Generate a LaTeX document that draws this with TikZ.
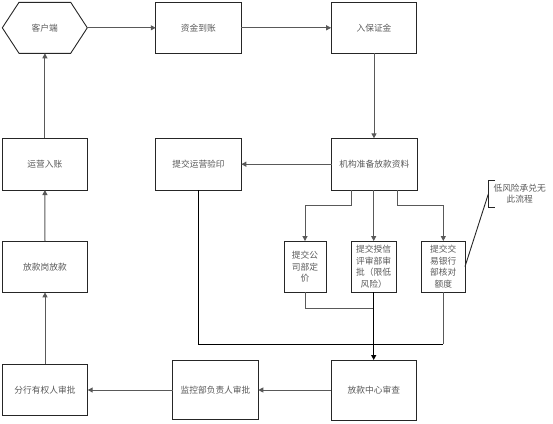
\documentclass[tikz,border=0pt]{standalone}
\usepackage{fontspec}
\newfontfamily\cjk{Noto Sans CJK SC}[Scale=0.97]
\usetikzlibrary{arrows.meta}
\tikzset{
  lbl/.style={font=\cjk\fontsize{9}{11.5}\selectfont, text=black!65},
  box/.style={lbl, draw=black!85, line width=0.9pt, rectangle, inner sep=0pt, outer sep=0pt, align=center},
  conn/.style={draw=black!65, line width=1pt},
  arr/.style={conn, -{Triangle[length=5pt,width=5pt]}},
}
\begin{document}
\begin{tikzpicture}[x=1pt,y=-1pt]
\useasboundingbox (0,0) rectangle (553,423);
% hexagon
\node[lbl, inner sep=0pt, outer sep=0pt, minimum width=85pt, minimum height=51pt] (hex) at (44.8,27.8) {客户端};
\draw[draw=black!85, line width=0.9pt] (hex.west) -- ([xshift=16.7pt]hex.north west) -- ([xshift=-16.6pt]hex.north east) -- (hex.east) -- ([xshift=-16.6pt]hex.south east) -- ([xshift=16.7pt]hex.south west) -- cycle;
% top row
\node[box, minimum width=85.3pt, minimum height=51pt] (zj) at (198.4,27.8) {资金到账};
\node[box, minimum width=85.7pt, minimum height=51pt] (rb) at (374,27.8) {入保证金};
% second row
\node[box, minimum width=85.2pt, minimum height=51.7pt] (yy) at (44.9,164.2) {运营入账};
\node[box, minimum width=85.6pt, minimum height=51.7pt] (ty) at (198.5,164.2) {提交运营验印};
\node[box, minimum width=85.8pt, minimum height=51.7pt] (jg) at (374.4,164.2) {机构准备放款资料};
% third row
\node[box, minimum width=85.7pt, minimum height=51.3pt] (fg) at (45,266.7) {放款岗放款};
\node[box, minimum width=42pt, minimum height=51.3pt] (b1) at (305,266.7) {提交公\\司部定\\价};
\node[box, minimum width=45pt, minimum height=51.3pt] (b2) at (373.7,266.7) {提交授信\\评审部审\\批（限低\\风险）};
\node[box, minimum width=43.3pt, minimum height=51.3pt] (b3) at (443.3,266.7) {提交交\\易银行\\部核对\\额度};
% bottom row
\node[box, minimum width=85.7pt, minimum height=60pt] (fk) at (373.9,390) {放款中心审查};
\node[box, minimum width=85.6pt, minimum height=59.7pt] (jk) at (215.5,390) {监控部负责人审批};
\node[box, minimum width=85.4pt, minimum height=51.7pt] (fh) at (45,390) {分行有权人审批};
% callout
\node[lbl, align=center, inner sep=0pt] (note) at (519.7,193.5) {低风险承兑无\\此流程};
\coordinate (nb) at (488.3,194);
\draw[draw=black!85, line width=0.9pt] (495,180.7) -- (488.3,180.7) -- (488.3,207.7) -- (495,207.7);
\draw[draw=black!85, line width=0.9pt] (nb) -- (b3.east);
% connectors
\draw[arr] (hex.east) -- (zj.west);
\draw[arr] (zj.east) -- (rb.west);
\draw[arr] (rb.south) -- (rb.south |- jg.north);
\draw[arr] (jg.west) -- (ty.east);
\draw[arr] ([xshift=-23.4pt]jg.south) -- ++(0,15) -| (b1.north);
\draw[arr] ([xshift=-0.7pt]jg.south) -- ([xshift=-0.7pt]jg.south |- b2.north);
\draw[arr] ([xshift=23.3pt]jg.south) -- ++(0,15) -| (b3.north);
\coordinate (h1) at (0,308);
\coordinate (h2) at (0,344);
\draw[conn] (b1.south) |- (b2.south |- h1);
\draw[conn, draw=black] (ty.south) |- (b3.south |- h2);
\draw[conn] (b3.south |- h2) -- (b3.south);
\draw[arr, draw=black, line width=1.4pt] (b2.south) -- (b2.south |- fk.north);
\draw[arr] (fk.west) -- (jk.east);
\draw[arr] (jk.west) -- (fh.east);
\draw[arr] (fh.north) -- (fg.south);
\draw[arr] (fg.north) -- (yy.south);
\draw[arr] (yy.north) -- (yy.north |- hex.south);
\end{tikzpicture}
\end{document}
